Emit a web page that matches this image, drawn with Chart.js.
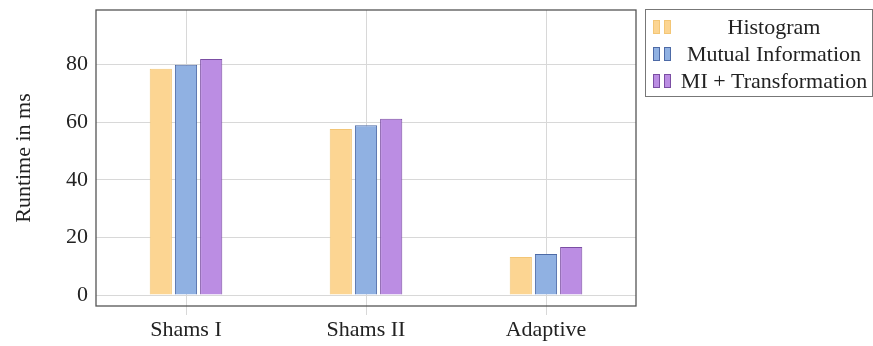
<!DOCTYPE html>
<html>
<head>
<meta charset="utf-8">
<script src="https://cdn.jsdelivr.net/npm/chart.js@4/dist/chart.umd.min.js"></script>
<style>
  html, body { margin: 0; padding: 0; background: #fff; }
  #wrap { width: 873px; height: 346px; }
</style>
</head>
<body>
<div id="wrap"><canvas id="c" width="873" height="346"></canvas></div>
<script>
// values
const categories = ["Shams I", "Shams II", "Adaptive"];
const histogram = [78.6, 57.7, 13.2];
const mutualInfo = [80.0, 59.0, 14.3];
const miTransform = [82.0, 61.2, 16.7];
const yTicks = [0, 20, 40, 60, 80];

const serif = "'Liberation Serif', 'DejaVu Serif', serif";

// frame round the plot + legend box at the right
const framePlugin = {
    id: 'frame',
    afterDraw(chart) {
        const ctx = chart.ctx;
        const a = chart.chartArea;
        ctx.save();
        ctx.strokeStyle = '#555';
        ctx.lineWidth = 1.3;
        ctx.strokeRect(a.left, a.top, a.right - a.left, a.bottom - a.top);

        // legend
        const bx = 645, by = 9, bw = 227, bh = 87;
        ctx.strokeStyle = '#777';
        ctx.lineWidth = 1;
        ctx.strokeRect(bx + 0.5, by + 0.5, bw, bh);
        ctx.font = '22px ' + serif;
        ctx.textAlign = 'center';
        ctx.textBaseline = 'middle';
        chart.data.datasets.forEach((ds, i) => {
            const cy = by + 18 + i * 27;
            [653, 664].forEach(x => {
                ctx.fillStyle = ds.backgroundColor;
                ctx.fillRect(x, cy - 7, 7, 14);
                ctx.strokeStyle = ds.borderColor;
                ctx.strokeRect(x + 0.5, cy - 6.5, 6, 13);
            });
            ctx.fillStyle = '#222';
            ctx.fillText(ds.label, 774, cy + 1);
        });
        ctx.restore();
    }
};

new Chart(document.getElementById('c'), {
    type: 'bar',
    data: {
        labels: categories,
        datasets: [
            { label: 'Histogram', data: histogram, backgroundColor: '#fcd592', borderColor: '#f3c676', borderWidth: 1 },
            { label: 'Mutual Information', data: mutualInfo, backgroundColor: '#90b1e2', borderColor: '#4d6aa6', borderWidth: 1 },
            { label: 'MI + Transformation', data: miTransform, backgroundColor: '#bb8de3', borderColor: '#7b4ea3', borderWidth: 1 }
        ]
    },
    options: {
        responsive: false,
        animation: false,
        layout: { padding: { top: 10, right: 237, left: 0, bottom: 0 } },
        categoryPercentage: 0.42,
        barPercentage: 0.88,
        plugins: { legend: { display: false }, tooltip: { enabled: false } },
        scales: {
            x: {
                grid: { offset: false, color: '#d8d8d8', drawTicks: true, tickLength: 9 },
                border: { display: false },
                ticks: { color: '#222', font: { family: serif, size: 22 }, padding: 2 },
                afterFit(s) { s.height = 40; s.paddingLeft = 0; s.paddingRight = 0; }
            },
            y: {
                min: -3.8,
                max: 99,
                grid: { color: '#d8d8d8', drawTicks: false },
                border: { display: false },
                afterBuildTicks(s) { s.ticks = yTicks.map(v => ({ value: v })); },
                ticks: { color: '#222', font: { family: serif, size: 22 }, padding: 8 },
                title: { display: true, text: 'Runtime in ms', color: '#222', font: { family: serif, size: 22 }, padding: { top: 11, bottom: 0 } },
                afterFit(s) { s.width = 96; s.paddingTop = 0; s.paddingBottom = 0; }
            }
        }
    },
    plugins: [framePlugin]
});
</script>
</body>
</html>
